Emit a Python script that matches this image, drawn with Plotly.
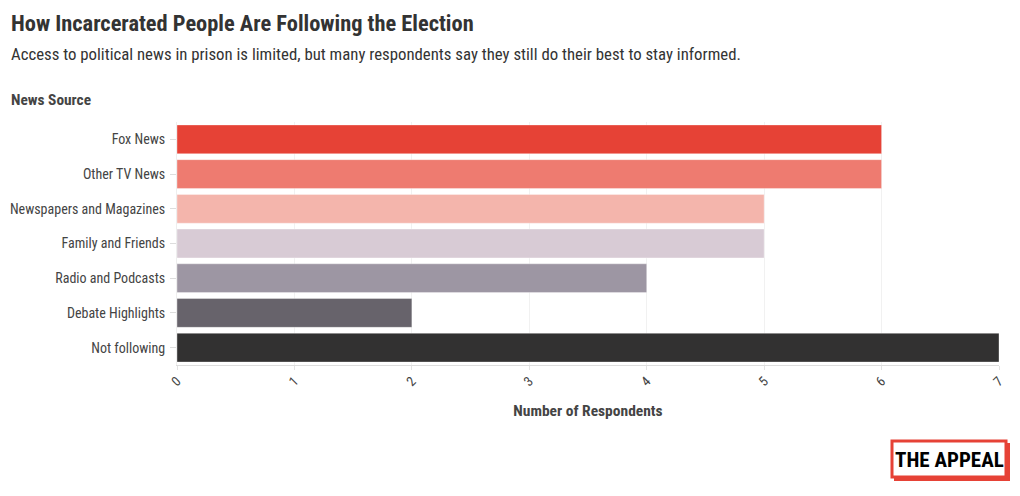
import plotly.graph_objects as go

categories = ["Fox News", "Other TV News", "Newspapers and Magazines", "Family and Friends",
              "Radio and Podcasts", "Debate Highlights", "Not following"]
respondents = [6, 6, 5, 5, 4, 2, 7]
bar_colors = ["#E64236", "#EE7B70", "#F4B5AC", "#D8CBD5", "#9D96A3", "#67636B", "#323131"]
x_ticks = [0, 1, 2, 3, 4, 5, 6, 7]

FONT = "Roboto Condensed, Roboto, sans-serif"

W, H = 1020, 496
L, R, T, B = 177, 21, 122, 131
PW, PH = W - L - R, H - T - B

def px(x):
    return (x - L) / PW

def py(y):
    return (H - B - y) / PH

fig = go.Figure(go.Bar(
    x=respondents, y=categories, orientation="h",
    marker=dict(color=bar_colors, line=dict(color="rgba(255,255,255,0.35)", width=1)),
    hoverinfo="x+y",
))

fig.update_layout(
    width=W, height=H,
    margin=dict(l=L, r=R, t=T, b=B, autoexpand=False),
    paper_bgcolor="white", plot_bgcolor="white",
    bargap=0.17,
    showlegend=False,
    font=dict(family=FONT, color="#444", size=14),
    xaxis=dict(
        range=[0, 7], tickvals=x_ticks, tickangle=-45,
        showgrid=True, gridcolor="#f1f1f1", gridwidth=1,
        zeroline=False, showline=True, linecolor="#dddddd", linewidth=1,
        ticks="outside", ticklen=4, tickcolor="#e3e3e3",
        tickfont=dict(size=13.5, color="#444"),
        ticklabelstandoff=-2,
        title=dict(text="<b>Number of Respondents</b>", font=dict(size=15.5, color="#444"), standoff=17),
        automargin=False,
        fixedrange=True,
    ),
    yaxis=dict(
        autorange="reversed", categoryorder="array", categoryarray=categories,
        showgrid=False, zeroline=False, showline=True, linecolor="#eeeeee",
        ticks="outside", ticklen=6, tickcolor="#dddddd",
        tickfont=dict(size=14, color="#444"),
        ticklabelstandoff=2,
        automargin=False,
        fixedrange=True,
    ),
)

annotations = [
    dict(text="<b>How Incarcerated People Are Following the Election</b>",
         x=px(9), y=py(23), xanchor="left", yanchor="middle",
         font=dict(size=22.4, color="#333"), showarrow=False),
    dict(text="Access to political news in prison is limited, but many respondents say they still do their best to stay informed.",
         x=px(9), y=py(54), xanchor="left", yanchor="middle",
         font=dict(size=16.8, color="#333"), showarrow=False),
    dict(text="<b>News Source</b>",
         x=px(9), y=py(100), xanchor="left", yanchor="middle",
         font=dict(size=15.4, color="#444"), showarrow=False),
    dict(text="<b>THE APPEAL</b>",
         x=px(949), y=py(460), xanchor="center", yanchor="middle",
         font=dict(size=21, color="#000"),
         showarrow=False),
]
for a in annotations:
    a.update(xref="paper", yref="paper")
fig.update_layout(annotations=annotations)

shapes = [
    dict(type="rect", x0=px(894), x1=px(1010), y0=py(443), y1=py(481),
         fillcolor="#E64236", line=dict(width=0)),
    dict(type="rect", x0=px(892), x1=px(1006), y0=py(441), y1=py(477),
         fillcolor="white", line=dict(color="#E64236", width=3)),
]
for s in shapes:
    s.update(xref="paper", yref="paper", layer="below")
fig.update_layout(shapes=shapes)

fig.write_html("out.html", config=dict(displayModeBar=False),
               post_script="document.body.style.margin='0';document.body.style.overflow='hidden';")
